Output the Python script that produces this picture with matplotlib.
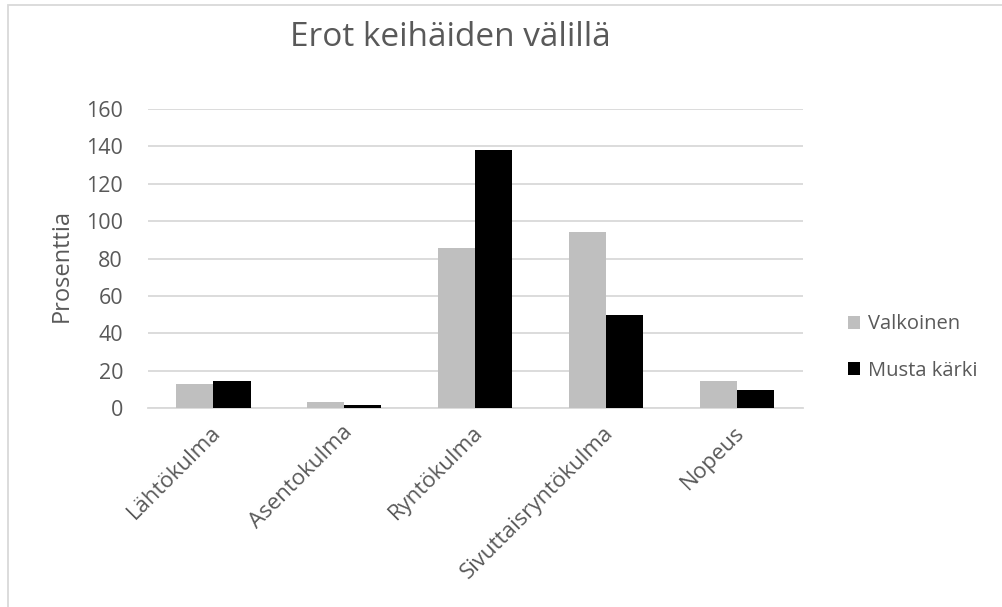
import matplotlib
matplotlib.use("Agg")
import matplotlib.pyplot as plt
import matplotlib.transforms as mtransforms
from matplotlib.patches import Rectangle
import numpy as np

categories = ["Lähtökulma", "Asentokulma", "Ryntökulma", "Sivuttaisryntökulma", "Nopeus"]
valkoinen = [13, 3, 85.5, 94, 14.5]
musta_karki = [14.5, 1.5, 138, 50, 9.5]
yticks = [0, 20, 40, 60, 80, 100, 120, 140, 160]

plt.rcParams["font.family"] = ["Open Sans", "DejaVu Sans"]
text_color = "#595959"

fig = plt.figure(figsize=(10.03, 6.07), dpi=100)
ax = fig.add_axes([0.1476, 0.3278, 0.6525, 0.4926])

x = np.arange(len(categories))
w = 0.283
ax.bar(x - w / 2, valkoinen, w, color="#BFBFBF", label="Valkoinen", zorder=3)
ax.bar(x + w / 2, musta_karki, w, color="#000000", label="Musta kärki", zorder=3)

ax.set_xlim(-0.5, len(categories) - 0.5)
ax.set_ylim(0, 160)
ax.set_yticks(yticks)
ax.yaxis.grid(True, color="#D9D9D9", linewidth=1.3, zorder=0)
ax.set_axisbelow(True)
for s in ["top", "right", "left"]:
    ax.spines[s].set_visible(False)
ax.spines["bottom"].set_color("#D9D9D9")
ax.spines["bottom"].set_linewidth(1.3)
ax.tick_params(axis="y", length=0, colors=text_color, labelsize=15.5, pad=18)
ax.set_xticks(x)
ax.set_xticklabels(categories, rotation=45, ha="right", rotation_mode="anchor")
ax.tick_params(axis="x", length=0, colors=text_color, labelsize=16, pad=10)
shift = mtransforms.ScaledTranslation(-3 / 100, 0, fig.dpi_scale_trans)
for lbl in ax.get_xticklabels():
    lbl.set_transform(lbl.get_transform() + shift)

fig.text(62 / 1003, 0.563, "Prosenttia", rotation=90, ha="center", va="center",
         fontsize=17, color=text_color)

fig.text(0.449, 0.939, "Erot keihäiden välillä", ha="center", va="center",
         fontsize=24, color=text_color)

ax.legend(loc="upper left", bbox_to_anchor=(1.057, 0.34), frameon=False,
          fontsize=14.5, labelcolor=text_color, handlelength=0.6,
          handleheight=0.6, handletextpad=0.4, labelspacing=1.3,
          borderaxespad=0)

fig.patches.append(Rectangle((0.008, -0.01), 1.2, 1.002, transform=fig.transFigure,
                             fill=False, edgecolor="#D9D9D9", linewidth=1.3))

fig.savefig("out.png", dpi=100)
